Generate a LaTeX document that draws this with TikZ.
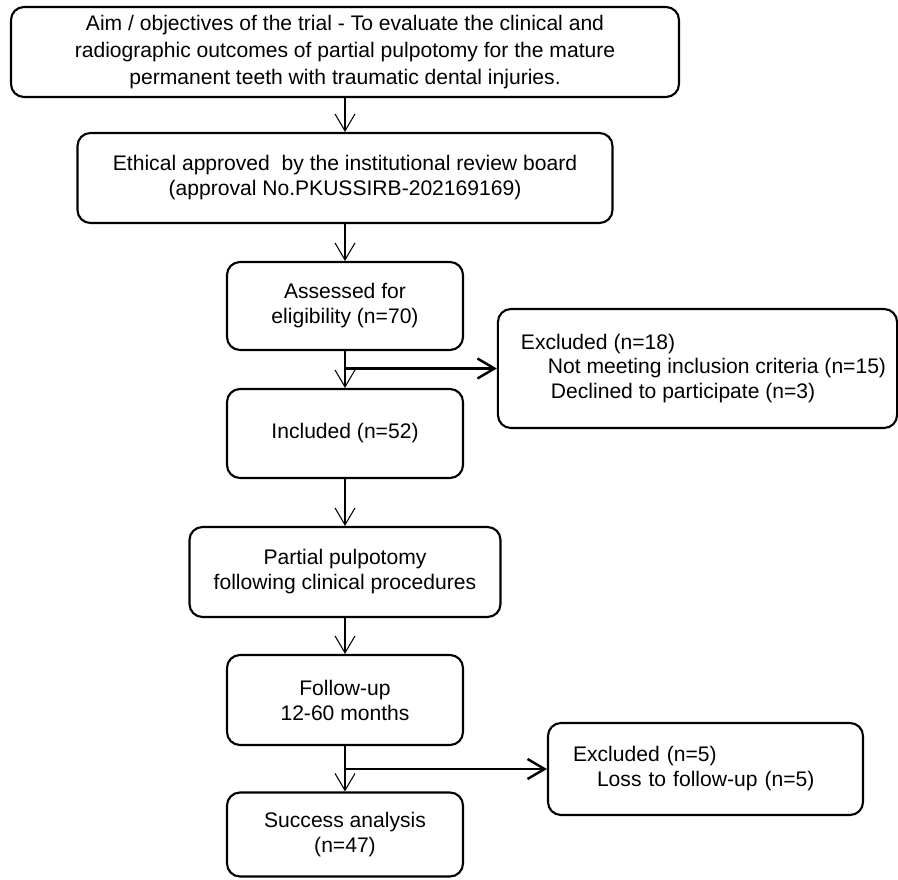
\documentclass[tikz,border=0pt]{standalone}
\usepackage{fontspec}
\setmainfont{Liberation Sans}
\usetikzlibrary{arrows.meta}

\tikzset{
  box/.style={draw, rounded corners=0.26cm, line width=1.2pt, align=center},
  exclbox/.style={box, align=left},
  flow/.style={->, line width=0.6pt},
  branch/.style={->, line width=1.4pt}
}

\begin{document}
\begin{tikzpicture}[>={Straight Barb[length=0.34cm,width=0.40cm]}, font=\fontsize{12pt}{14.2pt}\selectfont]
        \useasboundingbox (0,0) rectangle (17.96,-17.58);

        % Main column
        \node[box, minimum width=13.36cm, minimum height=1.8cm] (aim) at (6.9,-1.04)
            {Aim / objectives of the trial - To evaluate the clinical and\\[0.04cm]radiographic outcomes of partial pulpotomy for the mature\\[0.04cm]permanent teeth with traumatic dental injuries.};
        \node[box, minimum width=10.7cm, minimum height=1.8cm] (ethic) at (6.9,-3.56)
            {Ethical approved\ \ by the institutional review board\\(approval No.PKUSSIRB-202169169)};
        \node[box, minimum width=4.72cm, minimum height=1.76cm] (assess) at (6.9,-6.12)
            {Assessed for\\eligibility (n=70)};
        \node[box, minimum width=4.72cm, minimum height=1.78cm] (incl) at (6.9,-8.67)
            {Included (n=52)};
        \node[box, minimum width=6.22cm, minimum height=1.8cm] (pulp) at (6.9,-11.44)
            {Partial pulpotomy\\following clinical procedures};
        \node[box, minimum width=4.72cm, minimum height=1.8cm] (follow) at (6.9,-14.0)
            {Follow-up\\12-60 months};
        \node[box, minimum width=4.72cm, minimum height=1.68cm] (success) at (6.9,-16.69)
            {Success analysis\\(n=47)};

        % Excluded boxes
        \node[exclbox, minimum width=7.94cm, minimum height=2.38cm, inner xsep=0.22cm] (excl1) at (13.95,-7.37)
            {\hspace*{0.24cm}Excluded (n=18)\\
             \hspace*{0.78cm}Not meeting inclusion criteria (n=15)\\
             \hspace*{0.84cm}Declined to participate (n=3)};
        \node[exclbox, text width=5.3cm, inner xsep=0.5cm, minimum height=1.84cm] (excl2) at (14.11,-15.38)
            {Excluded (n=5)\\
             \hspace*{0.48cm}Loss to follow-up (n=5)};

        % Connections
        \draw[flow] (aim) -- (ethic);
        \draw[flow] (ethic) -- (assess);
        \draw[flow] (assess) -- (incl);
        \draw[flow] (incl) -- (pulp);
        \draw[flow] (pulp) -- (follow);
        \draw[flow] (follow) -- (success);

        % Exclusions
        \draw[branch] (assess.south |- excl1.west) -- (excl1.west);
        \draw[branch] (follow.south |- excl2.west) -- (excl2.west);
\end{tikzpicture}
\end{document}
